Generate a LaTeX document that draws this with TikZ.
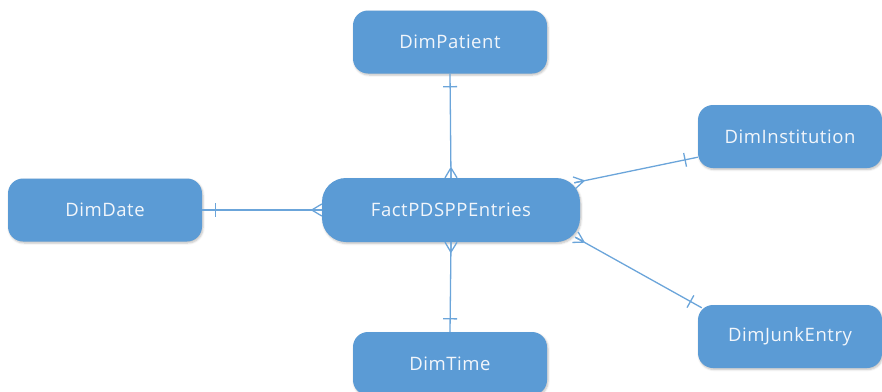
\documentclass[tikz,border=0pt]{standalone}
\usepackage{fontspec}
\setmainfont{Open Sans}[LetterSpace=3]
\usetikzlibrary{calc,shadows.blur}
\definecolor{boxblue}{HTML}{5B9BD5}
\definecolor{linkblue}{HTML}{6BA5DA}
\definecolor{labelwhite}{HTML}{F2F6FB}

% many-side crow's foot at end #1 of the link towards #2
\newcommand\crowfoot[2]{%
  \draw[link] ($(#1)!10pt!(#2)$) -- (#1)
              ($(#1)!10pt!(#2)$) -- ($(#1)!6pt!90:(#2)$)
              ($(#1)!10pt!(#2)$) -- ($(#1)!6pt!-90:(#2)$);}
% one-side bar near end #1 of the link towards #2
\newcommand\onebar[2]{%
  \draw[link] ($($(#1)!13pt!(#2)$)!7pt!90:(#2)$) -- ($($(#1)!13pt!(#2)$)!7pt!-90:(#2)$);}

\tikzset{
  entity/.style={draw=none, fill=boxblue, rounded corners=15pt,
    minimum height=63pt, text=labelwhite, inner sep=0pt,
    font=\fontsize{18.5}{20}\selectfont,
    blur shadow={shadow blur steps=5, shadow xshift=1pt, shadow yshift=-1.5pt,
      shadow blur radius=2pt, shadow opacity=25}},
  dim/.style={entity, minimum width=194pt},
  fact/.style={entity, minimum width=258pt, minimum height=64pt, rounded corners=24pt},
  link/.style={draw=linkblue, line width=1.3pt},
}

\begin{document}
\begin{tikzpicture}[x=1pt, y=-1pt]
  \useasboundingbox (0,0) rectangle (882,391);
  \clip (0,0) rectangle (882,391);

  \node[fact] (fact) at (451,210) {FactPDSPPEntries};
  \node[dim] (patient) at (450,42) {DimPatient};
  \node[dim] (time) at (450,363.5) {DimTime};
  \node[dim] (date) at (105,210) {DimDate};
  \node[dim, minimum width=184pt] (inst) at (790,136.5) {DimInstitution};
  \node[dim, minimum width=184pt] (junk) at (790,336.5) {DimJunkEntry};

  % link end points on the box borders
  \coordinate (fP) at (fact.north);
  \coordinate (pF) at (patient.south);
  \coordinate (fT) at (fact.south);
  \coordinate (tF) at (time.north);
  \coordinate (fD) at (fact.west);
  \coordinate (dF) at (date.east);
  \coordinate (fI) at ($(fact.north east)+(-6,5)$);
  \coordinate (iF) at ($(inst.south west)+(0,-11)$);
  \coordinate (fJ) at ($(fact.south east)+(-5,-5)$);
  \coordinate (jF) at ($(junk.north west)+(4,3)$);

  \foreach \f/\d in {fP/pF, fT/tF, fD/dF, fI/iF, fJ/jF} {
    \draw[link] (\f) -- (\d);
    \crowfoot{\f}{\d}
    \onebar{\d}{\f}
  }
\end{tikzpicture}
\end{document}
